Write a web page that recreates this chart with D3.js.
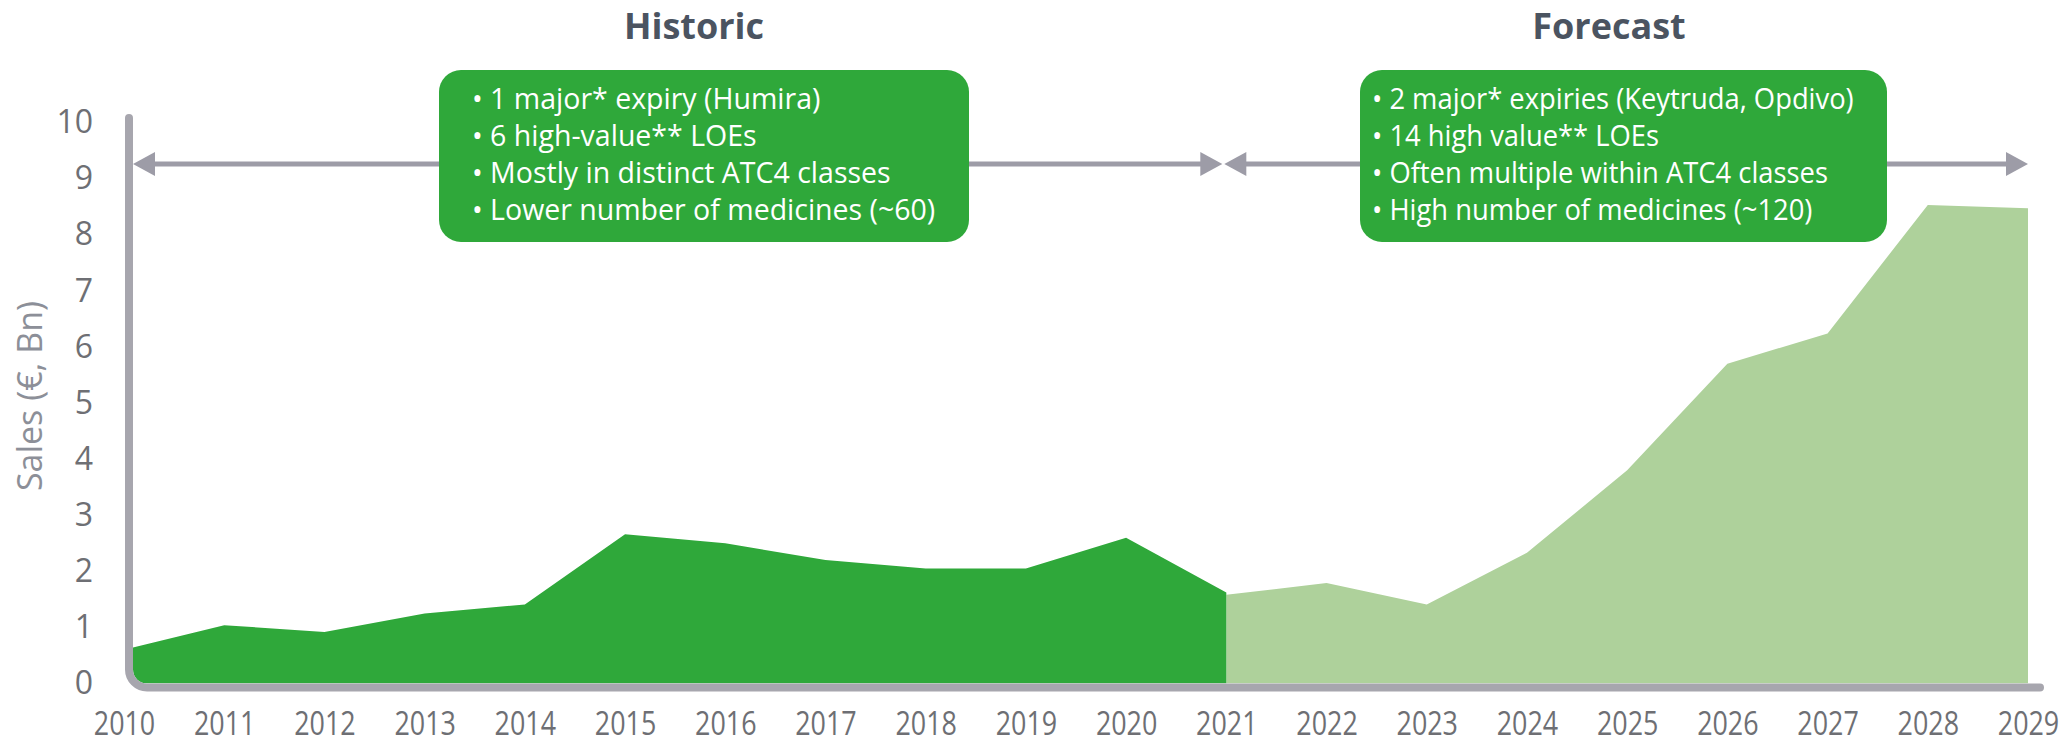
<!DOCTYPE html>
<html>
<head>
<meta charset="utf-8">
<script src="https://cdn.jsdelivr.net/npm/d3@7"></script>
<style>
  body { margin: 0; background: #fff; }
  svg { display: block; font-family: 'Open Sans', sans-serif; }
</style>
</head>
<body>
<svg width="2072" height="745"></svg>
<script>
const historicYears = [2010, 2011, 2012, 2013, 2014, 2015, 2016, 2017, 2018, 2019, 2020, 2021];
const historicSales = [0.6, 1.04, 0.92, 1.25, 1.41, 2.66, 2.5, 2.2, 2.05, 2.05, 2.6, 1.62];
const forecastYears = [2021, 2022, 2023, 2024, 2025, 2026, 2027, 2028, 2029];
const forecastSales = [1.58, 1.79, 1.41, 2.33, 3.8, 5.7, 6.24, 8.53, 8.47];
const yearLabels = [2010, 2011, 2012, 2013, 2014, 2015, 2016, 2017, 2018, 2019,
                    2020, 2021, 2022, 2023, 2024, 2025, 2026, 2027, 2028, 2029];
const yTicks = [0, 1, 2, 3, 4, 5, 6, 7, 8, 9, 10];
const historicNotes = ['• 1 major* expiry (Humira)', '• 6 high-value** LOEs',
                       '• Mostly in distinct ATC4 classes', '• Lower number of medicines (~60)'];
const forecastNotes = ['• 2 major* expiries (Keytruda, Opdivo)', '• 14 high value** LOEs',
                       '• Often multiple within ATC4 classes', '• High number of medicines (~120)'];

const darkGreen = '#2fa83a';
const lightGreen = '#aed19b';
const axisGrey = '#a7a6ae';
const arrowGrey = '#9d9ca7';
const textGrey = '#6e6f74';

const svg = d3.select('svg');

const x = d3.scaleLinear().domain([2010, 2029]).range([124, 2028]);
const y = d3.scaleLinear().domain([0, 10]).range([683.5, 122.5]);

// clip so the area follows the rounded corner of the axis
svg.append('defs').append('clipPath').attr('id', 'plot')
  .append('rect')
    .attr('x', 133).attr('y', 0)
    .attr('width', 2100).attr('height', y(0))
    .attr('rx', 14);

const area = d3.area()
  .x(d => x(d.year))
  .y0(y(0))
  .y1(d => y(d.value));

const plot = svg.append('g').attr('clip-path', 'url(#plot)');

plot.append('path')
  .datum(forecastYears.map((year, i) => ({ year, value: forecastSales[i] })))
  .attr('d', area)
  .attr('fill', lightGreen);

plot.append('path')
  .datum(historicYears.map((year, i) => ({ year, value: historicSales[i] })))
  .attr('d', area)
  .attr('fill', darkGreen);

// axis line with rounded corner
const r = 18;
const axisX = 129, axisY = 687.5;
svg.append('path')
  .attr('d', `M${axisX},118 L${axisX},${axisY - r} A${r},${r} 0 0 0 ${axisX + r},${axisY} L2040,${axisY}`)
  .attr('fill', 'none')
  .attr('stroke', axisGrey)
  .attr('stroke-width', 8)
  .attr('stroke-linecap', 'round');

// y tick labels
const yAxis = svg.append('g')
  .attr('transform', `translate(${axisX},0)`)
  .call(d3.axisLeft(y).tickValues(yTicks).tickSize(0).tickPadding(36));
yAxis.select('.domain').remove();
yAxis.selectAll('text')
  .attr('font-family', 'Open Sans, sans-serif')
  .attr('font-size', 32)
  .attr('fill', textGrey);

// x tick labels (narrow face in the original)
const xAxis = svg.append('g')
  .attr('transform', `translate(0,${axisY})`)
  .call(d3.axisBottom(x).tickValues(yearLabels).tickFormat(d3.format('d')).tickSize(0).tickPadding(25));
xAxis.select('.domain').remove();
xAxis.selectAll('text')
  .attr('font-family', 'Open Sans, sans-serif')
  .attr('font-size', 32)
  .attr('fill', textGrey)
  .attr('transform', 'scale(0.84,1)');

svg.append('text')
  .attr('transform', 'translate(42,396) rotate(-90)')
  .attr('text-anchor', 'middle')
  .attr('font-size', 34)
  .attr('fill', '#8c8f98')
  .text('Sales (€, Bn)');

// period arrows
const arrowY = 164;
const spans = [
  { from: x(2010) + 9, to: x(2021) - 4 },
  { from: x(2021) - 2, to: x(2029) }
];
const headLen = 22, headHalf = 12;
spans.forEach(s => {
  svg.append('line')
    .attr('x1', s.from + headLen - 2).attr('x2', s.to - headLen + 2)
    .attr('y1', arrowY).attr('y2', arrowY)
    .attr('stroke', arrowGrey).attr('stroke-width', 5);
  svg.append('path')
    .attr('d', `M${s.from},${arrowY} L${s.from + headLen},${arrowY - headHalf} L${s.from + headLen},${arrowY + headHalf}Z`)
    .attr('fill', arrowGrey);
  svg.append('path')
    .attr('d', `M${s.to},${arrowY} L${s.to - headLen},${arrowY - headHalf} L${s.to - headLen},${arrowY + headHalf}Z`)
    .attr('fill', arrowGrey);
});

// headings and note boxes
const panels = [
  { title: 'Historic', titleX: 694, box: [439, 969], textX: 472, notes: historicNotes, squeeze: 1 },
  { title: 'Forecast', titleX: 1609, box: [1360, 1887], textX: 1372, notes: forecastNotes, squeeze: 0.96 }
];

panels.forEach(p => {
  svg.append('text')
    .attr('x', p.titleX).attr('y', 39)
    .attr('text-anchor', 'middle')
    .attr('font-size', 36)
    .attr('font-weight', 700)
    .attr('fill', '#4b5461')
    .text(p.title);

  svg.append('rect')
    .attr('x', p.box[0]).attr('y', 70)
    .attr('width', p.box[1] - p.box[0]).attr('height', 172)
    .attr('rx', 22)
    .attr('fill', darkGreen);

  const t = svg.append('g')
    .attr('transform', `translate(${p.textX},0) scale(${p.squeeze},1)`);
  t.selectAll('text').data(p.notes)
    .enter().append('text')
      .attr('x', 0)
      .attr('y', (d, i) => 109 + i * 37)
      .attr('font-size', 28.5)
      .attr('fill', '#ffffff')
      .text(d => d);
});
</script>
</body>
</html>
